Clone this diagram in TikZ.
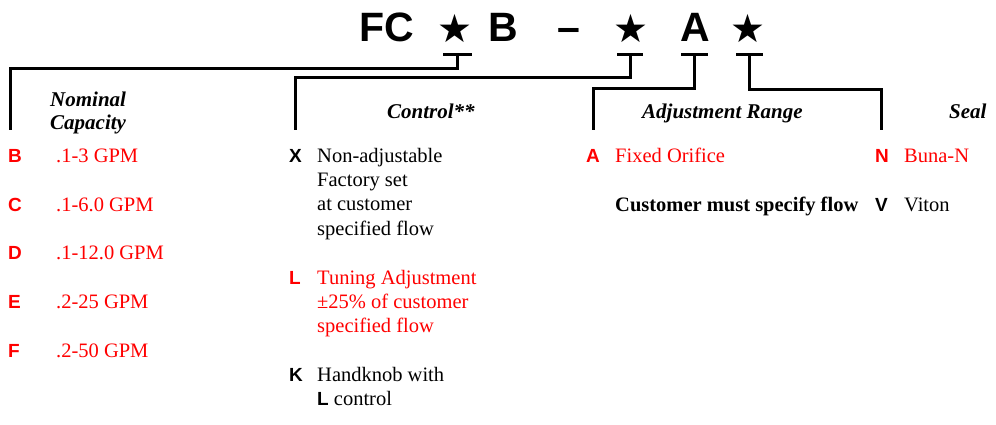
\documentclass[tikz,border=0pt]{standalone}
\usepackage{fontspec}
\setmainfont{Liberation Serif}
\setsansfont{Liberation Sans}
\newfontfamily\symfont{DejaVu Sans}
\usetikzlibrary{calc}

\newcommand{\codefont}{\sffamily\bfseries\fontsize{41}{41}\selectfont}
\newcommand{\starfont}{\symfont\fontsize{39}{39}\selectfont}
\newcommand{\keyfont}{\sffamily\bfseries\fontsize{19}{24.4}\selectfont}

\begin{document}
\begin{tikzpicture}[x=1pt, y=-1pt,
  code/.style={font=\codefont, anchor=base, inner sep=0pt},
  star/.style={font=\starfont, anchor=base, inner sep=0pt},
  bar/.style={line width=3pt},
  lead/.style={line width=3pt},
  head/.style={font=\bfseries\itshape\fontsize{21}{23}\selectfont, anchor=base west, inner sep=0pt, align=left},
  key/.style={font=\keyfont, anchor=base west, inner sep=0pt},
  item/.style={font=\fontsize{20.5}{24.4}\selectfont, anchor=base west, inner sep=0pt, align=left}
  ]
  \useasboundingbox (0,0) rectangle (996,424);

  % model code
  \node[code] (fc) at (387,41) {FC};
  \node[star] (s1) at (455,42) {★};
  \node[code] (cb) at (503,41) {B};
  \node[code] (dash) at (569,41) {–};
  \node[star] (s2) at (631,42) {★};
  \node[code] (ca) at (695,41) {A};
  \node[star] (s3) at (748,42) {★};

  % bars under the open positions
  \coordinate (b1) at (457,54);
  \coordinate (b2) at (630,54);
  \coordinate (b3) at (694,54);
  \coordinate (b4) at (749,54);
  \draw[bar] ($(b1)+(-14,0)$) -- ($(b1)+(15,0)$);
  \draw[bar] ($(b2)+(-13,0)$) -- ($(b2)+(13,0)$);
  \draw[bar] ($(b3)+(-13,0)$) -- ($(b3)+(14,0)$);
  \draw[bar] ($(b4)+(-13,0)$) -- ($(b4)+(14,0)$);

  % column tops
  \coordinate (h1) at (10,130);
  \coordinate (h2) at (295,130);
  \coordinate (h3) at (593,130);
  \coordinate (h4) at (881,130);

  \draw[lead] (b1) -- ++(0,14) -| (h1);
  \draw[lead] (b2) -- ++(0,23) -| (h2);
  \draw[lead] (b3) -- ++(0,34) -| (h3);
  \draw[lead] (b4) -- ++(0,35) -| (h4);

  % headings (multi-line nodes sit on their last baseline)
  \node[head] (cap) at (50,129) {Nominal\\Capacity};
  \node[head] (ctl) at (387,118) {Control**};
  \node[head] (adj) at (642,118) {Adjustment Range};
  \node[head] (seal) at (949,118) {Seal};

  % nominal capacity
  \node[key, red] (kB) at (8,162) {B};
  \node[item, red] (vB) at (56,162) {.1-3 GPM};
  \node[key, red] (kC) at (8,211) {C};
  \node[item, red] (vC) at (56,211) {.1-6.0 GPM};
  \node[key, red] (kD) at (8,259) {D};
  \node[item, red] (vD) at (56,259) {.1-12.0 GPM};
  \node[key, red] (kE) at (8,308) {E};
  \node[item, red] (vE) at (56,308) {.2-25 GPM};
  \node[key, red] (kF) at (8,357) {F};
  \node[item, red] (vF) at (56,357) {.2-50 GPM};

  % control
  \node[key] (kX) at (289,162) {X};
  \node[item] (vX) at (317,235.2) {Non-adjustable\\Factory set\\at customer\\specified flow};
  \node[key, red] (kL) at (289,284) {L};
  \node[item, red] (vL) at (317,332.8) {Tuning Adjustment\\±25\% of customer\\specified flow};
  \node[key] (kK) at (289,381) {K};
  \node[item] (vK) at (317,405.4) {Handknob with\\{\keyfont L} control};

  % adjustment range
  \node[key, red] (kA) at (586,162) {A};
  \node[item, red] (vA) at (615,162) {Fixed Orifice};
  \node[item, font=\bfseries\fontsize{20.5}{24.4}\selectfont] (note) at (615,211) {Customer must specify flow};

  % seal
  \node[key, red] (kN) at (875,162) {N};
  \node[item, red] (vN) at (904,162) {Buna-N};
  \node[key] (kV) at (875,211) {V};
  \node[item] (vV) at (904,211) {Viton};
\end{tikzpicture}
\end{document}
